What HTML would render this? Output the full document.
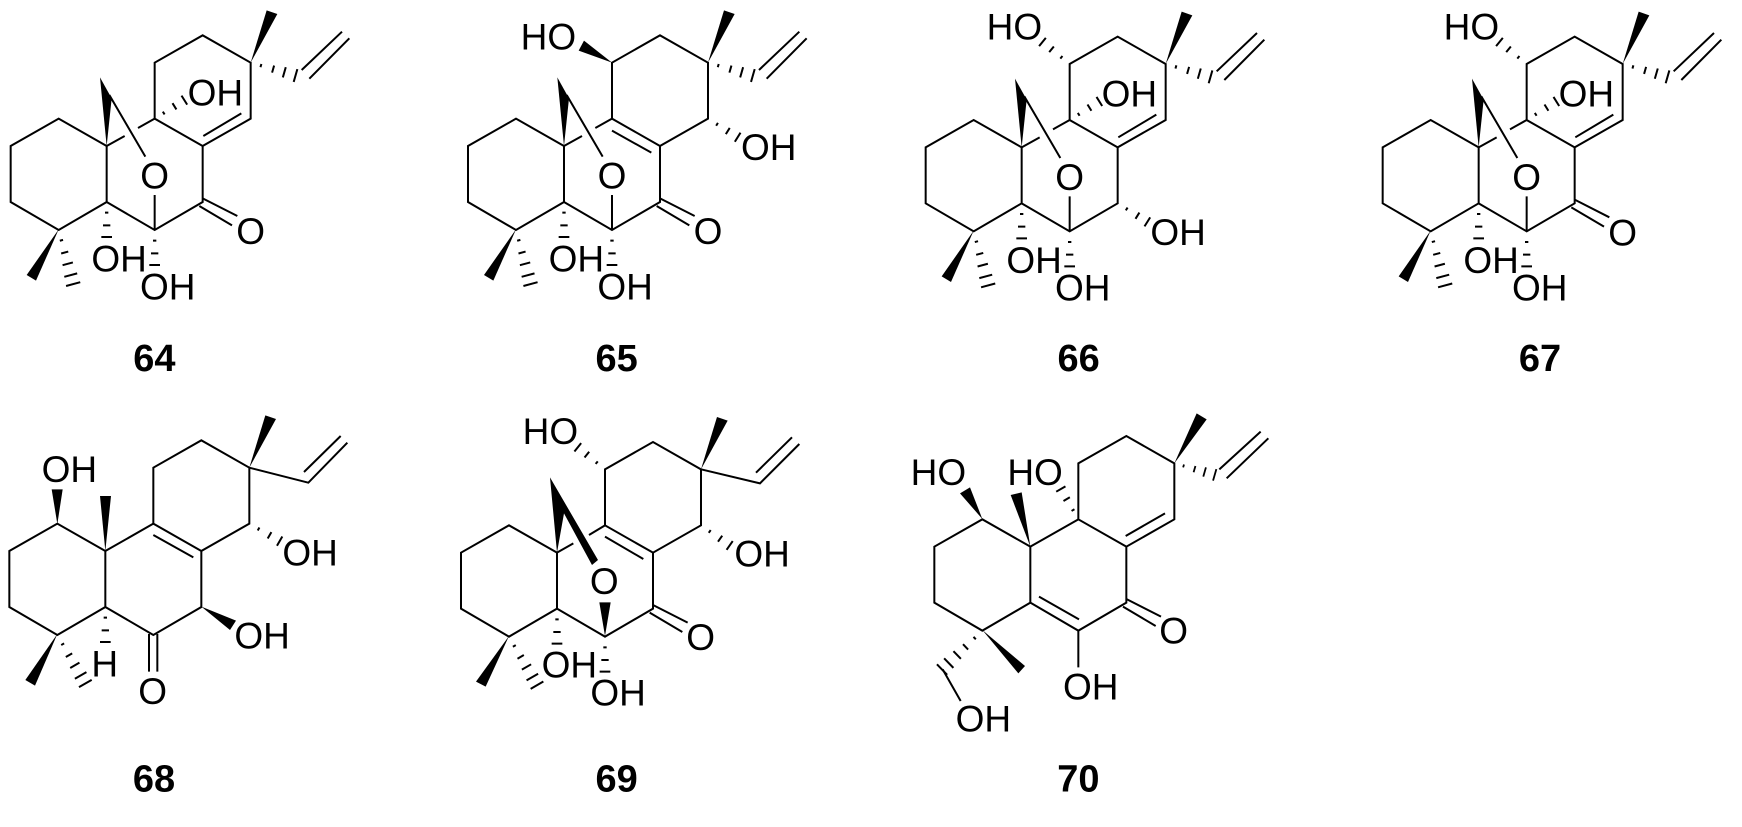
<!DOCTYPE html>
<html>
<head>
<meta charset="utf-8">
<style>
html,body{margin:0;padding:0;background:#fff;width:1742px;height:827px;overflow:hidden}
svg{display:block}
text{font-family:"Liberation Sans",Arial,sans-serif;font-size:111px;fill:#000}
text.n{font-weight:bold;font-size:114px;text-anchor:middle}
text.c{text-anchor:middle}
.s{stroke:#000;stroke-width:6;fill:none;stroke-linejoin:miter;stroke-linecap:butt}
.f{fill:#000;stroke:none}
</style>
</head>
<body>
<svg xmlns="http://www.w3.org/2000/svg" width="1742" height="827" viewBox="0 0 1742 827">
<defs>
<g id="h3" class="s"><path d="M32,-5V5M70,-11V11M105,-16V16"/></g>
<g id="h4" class="s"><path d="M32,-5V5M70,-11V11M105,-16V16M140,-20V20"/></g>
<g id="h5" class="s"><path d="M32,-5V5M70,-11V11M105,-16V16M140,-20V20M168,-22V22"/></g>
<path id="r" class="s" d="M320,438L176,356L32,438V606L176,690L320,606ZM320,606L464,690L608,606V438L752,356V188L608,106L464,188V356L608,438"/>
<g id="br">
<polygon class="f" points="320,438 300,232 335,295"/>
<path class="s" d="M328,285L436,470M320,438L374,408M414,384L464,356M464,585V690"/>
</g>
<path id="co" class="s" d="M608,595L712,648M598,618L696,676"/>
<polygon id="w" class="f" points="752,188 800,31 832,42"/>
<path id="vl" class="s" d="M905,210L1026,95M928,236L1048,115"/>
<g id="v">
<use href="#h4" transform="translate(752,188) rotate(16)"/>
<use href="#vl"/>
</g>
<g id="d">
<polygon class="f" points="176,688 80,825 108,842"/>
<use href="#h5" transform="translate(176,690) rotate(75)"/>
</g>
<g id="eo">
<use href="#h3" transform="translate(320,606) rotate(90)"/>
<use href="#h3" transform="translate(464,690) rotate(90)"/>
</g>
</defs>

<!-- 64 -->
<g transform="translate(0,0) scale(.33333)">
<use href="#r"/><use href="#br"/><use href="#co"/><use href="#w"/><use href="#v"/><use href="#d"/><use href="#eo"/>
<path class="s" d="M610,408L724,340"/>
<use href="#h3" transform="translate(464,356) rotate(-32)"/>
<text x="563" y="316">OH</text>
<text class="c" x="464" y="566">O</text>
<text class="c" x="752" y="732">O</text>
<text x="274" y="815">OH</text>
<text x="420" y="898">OH</text>
<text class="n" x="463" y="1113">64</text>
</g>

<!-- 65 -->
<g transform="translate(457.33,0) scale(.33333)">
<use href="#r"/><use href="#br"/><use href="#co"/><use href="#w"/><use href="#v"/><use href="#d"/><use href="#eo"/>
<path class="s" d="M464,392L582,458"/>
<polygon class="f" points="464,188 380,122 364,152"/>
<use href="#h3" transform="translate(752,356) rotate(32)"/>
<text x="190" y="148">HO</text>
<text x="851" y="480">OH</text>
<text class="c" x="464" y="566">O</text>
<text class="c" x="752" y="732">O</text>
<text x="274" y="815">OH</text>
<text x="420" y="898">OH</text>
<text class="n" x="478" y="1113">65</text>
</g>

<!-- 66 -->
<g transform="translate(915,1.33) scale(.33333)">
<use href="#r"/><use href="#br"/><use href="#w"/><use href="#v"/><use href="#d"/><use href="#eo"/>
<path class="s" d="M610,408L724,340"/>
<use href="#h3" transform="translate(464,188) rotate(219)"/>
<use href="#h3" transform="translate(608,606) rotate(32)"/>
<use href="#h3" transform="translate(464,356) rotate(-32)"/>
<text x="215" y="114">HO</text>
<text x="560" y="316">OH</text>
<text class="c" x="464" y="566">O</text>
<text x="706" y="731">OH</text>
<text x="274" y="815">OH</text>
<text x="420" y="898">OH</text>
<text class="n" x="491" y="1109">66</text>
</g>

<!-- 67 -->
<g transform="translate(1372,1.33) scale(.33333)">
<use href="#r"/><use href="#br"/><use href="#co"/><use href="#w"/><use href="#v"/><use href="#d"/><use href="#eo"/>
<path class="s" d="M610,408L724,340"/>
<use href="#h3" transform="translate(464,188) rotate(219)"/>
<use href="#h3" transform="translate(464,356) rotate(-32)"/>
<text x="215" y="114">HO</text>
<text x="560" y="316">OH</text>
<text class="c" x="464" y="566">O</text>
<text class="c" x="752" y="732">O</text>
<text x="274" y="815">OH</text>
<text x="420" y="898">OH</text>
<text class="n" x="504" y="1109">67</text>
</g>

<!-- 68 -->
<g transform="translate(-1.33,405) scale(.33333)">
<use href="#r"/><use href="#w"/>
<path class="s" d="M320,438L464,356M464,390L584,457M451,687V800M476,687V800M752,188L929,233L1046,113M916,201L1026,93"/>
<polygon class="f" points="320,438 304,273 337,273"/>
<polygon class="f" points="176,357 159,253 192,253"/>
<polygon class="f" points="608,605 712,647 694,675"/>
<polygon class="f" points="176,687 80,825 109,842"/>
<use href="#h5" transform="translate(176,690) rotate(60)"/>
<use href="#h3" transform="translate(320,606) rotate(90)"/>
<use href="#h3" transform="translate(752,356) rotate(30)"/>
<text x="129" y="231">OH</text>
<text x="851" y="481">OH</text>
<text x="707" y="731">OH</text>
<text x="278" y="815">H</text>
<text class="c" x="462" y="897">O</text>
<text class="n" x="466" y="1160">68</text>
</g>

<!-- 69 -->
<g transform="translate(450.33,406.67) scale(.33333)">
<use href="#r"/><use href="#co"/><use href="#w"/><use href="#eo"/>
<polygon class="f" points="320,438 299,212 443,460 425,475 341,320"/>
<polygon class="f" points="464,688 447,587 481,587"/>
<path class="s" d="M320,438L369,410M416,385L464,356M464,390L579,457M752,188L929,230L1047,112M917,198L1025,92"/>
<polygon class="f" points="176,688 77,825 106,840"/>
<use href="#h5" transform="translate(176,690) rotate(60)"/>
<use href="#h3" transform="translate(464,188) rotate(219)"/>
<use href="#h3" transform="translate(752,356) rotate(35)"/>
<text x="217" y="112">HO</text>
<text x="852" y="480">OH</text>
<text class="c" x="462" y="562">O</text>
<text class="c" x="751" y="730">O</text>
<text x="274" y="813">OH</text>
<text x="420" y="897">OH</text>
<text class="n" x="499" y="1155">69</text>
</g>

<!-- 70 -->
<g transform="translate(923.67,400.67) scale(.33333)">
<use href="#r"/><use href="#co"/>
<path class="s" d="M320,438L464,356M346,588L466,656M606,406L724,338M464,688V800M887,206L1011,93M909,233L1034,113M57,806L111,901"/>
<polygon class="f" points="752,188 819,38 849,56"/>
<polygon class="f" points="320,438 261,283 294,275"/>
<polygon class="f" points="176,355 109,278 139,260"/>
<polygon class="f" points="176,688 304,796 284,818"/>
<use href="#h4" transform="translate(752,188) rotate(16) scale(.9)"/>
<use href="#h3" transform="translate(464,356) rotate(240)"/>
<use href="#h5" transform="translate(176,690) rotate(136)"/>
<text x="-39" y="253">HO</text>
<text x="251" y="253">HO</text>
<text class="c" x="750" y="728">O</text>
<text x="418" y="896">OH</text>
<text x="96" y="993">OH</text>
<text class="n" x="464" y="1173">70</text>
</g>
</svg>
</body>
</html>
